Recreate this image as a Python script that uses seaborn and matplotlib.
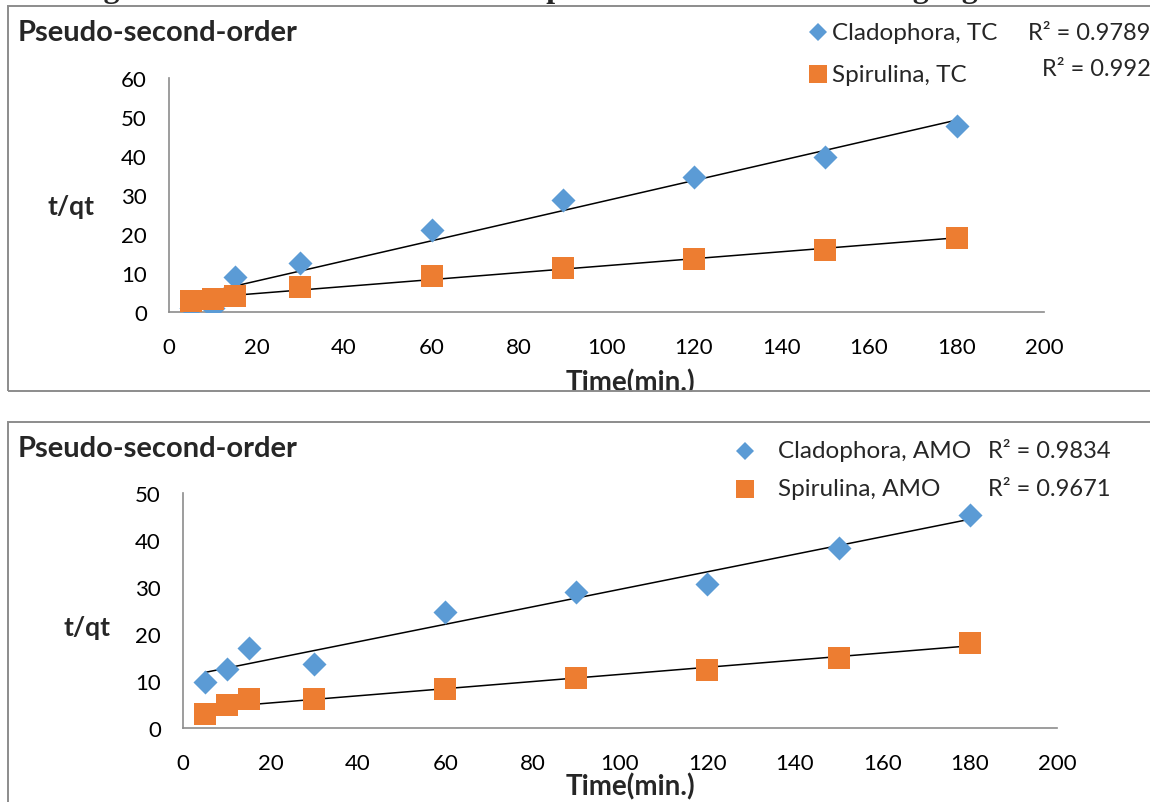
import numpy as np
import pandas as pd
import matplotlib
matplotlib.use("Agg")
import matplotlib.pyplot as plt
import seaborn as sns
from matplotlib.patches import Rectangle
from matplotlib.lines import Line2D

# ---------------- data ----------------
time_min = [5, 10, 15, 30, 60, 90, 120, 150, 180]
clad_tc = [1.0, 1.1, 8.9, 12.6, 21.0, 28.7, 34.6, 39.7, 47.6]
spir_tc = [2.9, 3.3, 4.1, 6.3, 9.3, 11.2, 13.5, 15.8, 19.1]
clad_amo = [9.7, 12.6, 17.1, 13.7, 24.6, 28.9, 30.7, 38.3, 45.3]
spir_amo = [3.0, 4.9, 6.1, 6.2, 8.3, 10.6, 12.3, 15.0, 18.0]
r2_tc = ["R² = 0.9789", "R² = 0.992"]
r2_amo = ["R² = 0.9834", "R² = 0.9671"]
labels_tc = ["Cladophora, TC", "Spirulina, TC"]
labels_amo = ["Cladophora, AMO", "Spirulina, AMO"]
x_ticks = list(range(0, 201, 20))
y_ticks_tc = list(range(0, 61, 10))
y_ticks_amo = list(range(0, 51, 10))

BLUE = "#5B9BD5"
ORANGE = "#ED7D31"
GRAY = "#8C8C8C"

sns.set_style("white")
plt.rcParams["font.family"] = ["Lato", "DejaVu Sans"]

W, H = 1150, 803
fig = plt.figure(figsize=(W / 100, H / 100), dpi=100)


def fx(px):
    return px / W


def fy(py):
    return 1 - py / H


def panel(ax, clad, spir, yt, ymax):
    df = pd.DataFrame({"t": time_min, "c": clad, "s": spir})
    sns.regplot(data=df, x="t", y="c", scatter=False, ci=None, truncate=True,
                line_kws=dict(color="black", lw=1.1), ax=ax)
    sns.regplot(data=df, x="t", y="s", scatter=False, ci=None, truncate=True,
                line_kws=dict(color="black", lw=1.1), ax=ax)
    sns.scatterplot(data=df, x="t", y="c", marker="D", s=150, color=BLUE,
                    linewidth=0, ax=ax, zorder=3)
    sns.scatterplot(data=df, x="t", y="s", marker="s", s=260, color=ORANGE,
                    linewidth=0, ax=ax, zorder=4)
    ax.set_xlim(0, 200)
    ax.set_ylim(0, ymax)
    ax.set_xticks(x_ticks)
    ax.set_yticks(yt)
    for sp in ["top", "right"]:
        ax.spines[sp].set_visible(False)
    for sp in ["left", "bottom"]:
        ax.spines[sp].set_color(GRAY)
        ax.spines[sp].set_linewidth(1.2)
    ax.tick_params(axis="both", which="major", direction="out", length=7,
                   width=1.2, color=GRAY, labelsize=16, labelcolor="black")
    ax.tick_params(axis="x", pad=11)
    ax.tick_params(axis="y", pad=9)
    ax.set_xlabel("")
    ax.set_ylabel("")
    ax.patch.set_alpha(0)


# top panel axes
ax1 = fig.add_axes([fx(169), fy(313), fx(1044) - fx(169), fy(79) - fy(313)])
panel(ax1, clad_tc, spir_tc, y_ticks_tc, 60)
# bottom panel axes
ax2 = fig.add_axes([fx(183), fy(729), fx(1057) - fx(183), fy(494) - fy(729)])
panel(ax2, clad_amo, spir_amo, y_ticks_amo, 50)

# header text (cut off at top edge, as in the source)
fig.text(fx(598), fy(-3), "Figure 4: Pseudo-second-order sorption of TC and AMO using algal biomass",
         family=["Liberation Serif", "DejaVu Serif"], weight="bold", fontsize=23,
         ha="center", va="baseline")

# titles
fig.text(fx(18), fy(33), "Pseudo-second-order", fontsize=21, weight="bold",
         ha="left", va="center")
fig.text(fx(18), fy(449), "Pseudo-second-order", fontsize=21, weight="bold",
         ha="left", va="center")

# axis titles
fig.text(fx(71), fy(207), "t/qt", fontsize=19, weight="bold", ha="center", va="center")
fig.text(fx(87), fy(628), "t/qt", fontsize=19, weight="bold", ha="center", va="center")
fig.text(fx(630), fy(383), "Time(min.)", fontsize=20, weight="bold", ha="center",
         va="center", zorder=2)
fig.text(fx(630), fy(787), "Time(min.)", fontsize=20, weight="bold", ha="center",
         va="center", zorder=2)

# legends
def legend_entry(mx, my, marker, color, ms, tx, label):
    fig.add_artist(Line2D([fx(mx)], [fy(my)], marker=marker, color=color,
                          markersize=ms, linestyle="none", markeredgewidth=0,
                          transform=fig.transFigure))
    fig.text(fx(tx), fy(my), label, fontsize=17.5, ha="left", va="center")

legend_entry(818, 33, "D", BLUE, 9, 832, labels_tc[0])
legend_entry(818, 75, "s", ORANGE, 13, 832, labels_tc[1])
fig.text(fx(1028), fy(33), r2_tc[0], fontsize=17, ha="left", va="center")
fig.text(fx(1042), fy(69), r2_tc[1], fontsize=17, ha="left", va="center")

legend_entry(745, 452, "D", BLUE, 9, 778, labels_amo[0])
legend_entry(745, 490, "s", ORANGE, 13, 778, labels_amo[1])
fig.text(fx(988), fy(452), r2_amo[0], fontsize=17, ha="left", va="center")
fig.text(fx(988), fy(490), r2_amo[1], fontsize=17, ha="left", va="center")

# white gap between panels (hides clipped axis title) and frames
fig.add_artist(Rectangle((0, fy(422)), 1, fy(393) - fy(422), transform=fig.transFigure,
                         facecolor="white", edgecolor="none", zorder=10))
fig.add_artist(Rectangle((fx(8), fy(392)), 1.0, fy(7) - fy(392), transform=fig.transFigure,
                         facecolor="none", edgecolor=GRAY, lw=1.4, zorder=11))
fig.add_artist(Rectangle((fx(8), fy(423) - 1.0), 1.0, 1.0, transform=fig.transFigure,
                         facecolor="none", edgecolor=GRAY, lw=1.4, zorder=11))

fig.savefig("out.png", dpi=100)
